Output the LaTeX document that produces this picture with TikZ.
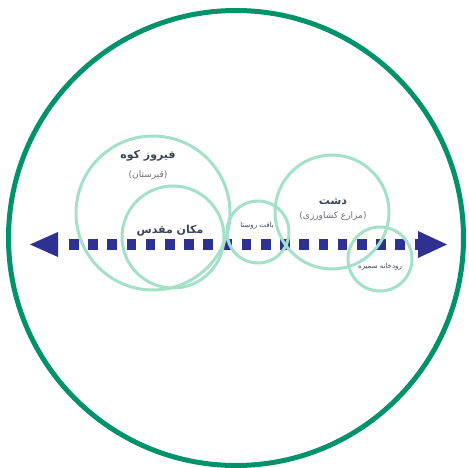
\documentclass[tikz,border=0pt]{standalone}
\usepackage{fontspec}
\newfontfamily\arabicfont[Script=Arabic]{DejaVu Sans}
\TeXXeTstate=1
\usetikzlibrary{positioning}
\definecolor{outergreen}{RGB}{0,146,106}
\definecolor{zonegreen}{RGB}{164,224,200}
\definecolor{axisblue}{RGB}{46,49,146}
\definecolor{labelgrey}{RGB}{60,68,84}
\definecolor{notegrey}{RGB}{110,110,120}

\begin{document}
\begin{tikzpicture}[x=1pt, y=-1pt,
	zone/.style={circle, draw=zonegreen, line width=3pt, inner sep=0pt},
	title/.style={text=labelgrey, font=\arabicfont\bfseries\fontsize{11}{12}\selectfont},
	note/.style={text=notegrey, font=\arabicfont\fontsize{9}{10}\selectfont},
	small/.style={text=labelgrey, font=\arabicfont\fontsize{7}{8}\selectfont}]
	\useasboundingbox (0,0) rectangle (469,468);
	\node[circle, draw=outergreen, line width=5pt, minimum size=455pt, inner sep=0pt] (world) at (236,238) {};
	% axis
	\coordinate (axl) at (69,244.5);
	\coordinate (axr) at (420,244.5);
	\draw[axisblue, line width=10pt, dash pattern=on 9.6pt off 9.6pt] (axl) -- (axr);
	\fill[axisblue] (58,232) -- (58,257) -- (30,244.5) -- cycle;
	\fill[axisblue] (418,231) -- (418,258) -- (447,244.5) -- cycle;
	% zones
	\node[zone, minimum size=154pt] (kuh) at (153,213) {};
	\node[zone, minimum size=102pt] (maqdas) at (173,237) {};
	\node[zone, minimum size=62pt] (rusta) at (258,232) {};
	\node[zone, minimum size=114pt] (dasht) at (332,212) {};
	\node[zone, minimum size=64pt] (rud) at (380,259) {};
	% labels
	\node[title] (kuhT) at (148,156) {\beginR فیروز کوه\endR};
	\node[note, below=2pt of kuhT] (kuhN) {\beginR (قبرستان)\endR};
	\node[title] (maqdasT) at (170,231) {\beginR مکان مقدس\endR};
	\node[small] (rustaT) at (257,226) {\beginR بافت روستا\endR};
	\node[title] (dashtT) at (333,201) {\beginR دشت\endR};
	\node[note, below=0pt of dashtT] (dashtN) {\beginR (مزارع کشاورزی)\endR};
	\node[small] (rudT) at (380,267) {\beginR رودخانه سمیره\endR};
\end{tikzpicture}
\end{document}
